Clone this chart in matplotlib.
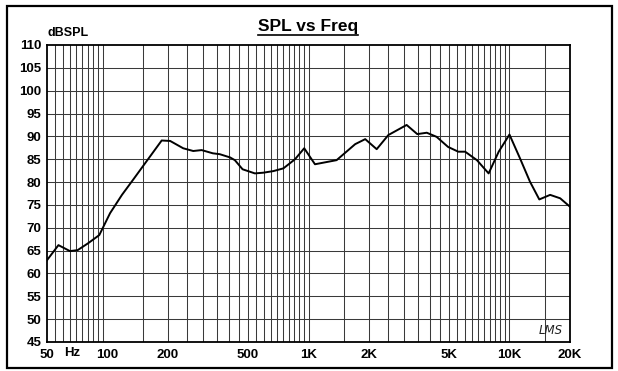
import matplotlib

matplotlib.use("Agg")
import matplotlib.pyplot as plt
from matplotlib.lines import Line2D
from matplotlib.patches import Rectangle
import numpy as np

# --- data --------------------------------------------------------------------
freq_hz = [50, 57, 65, 71, 80, 91, 103, 118, 134, 186, 205, 238, 267, 294,
           334, 362, 407, 430, 470, 541, 595, 668, 750, 857, 952, 1077, 1380,
           1707, 1915, 2184, 2497, 3078, 3477, 3877, 4339, 4945, 5561, 6017,
           6885, 7874, 8838, 9995, 11277, 12640, 14070, 15930, 17870, 20000]
spl_db = [62.9, 66.2, 64.9, 65.1, 66.6, 68.4, 73.2, 77.2, 80.5, 89.1, 89.0,
          87.4, 86.8, 87.0, 86.3, 86.1, 85.4, 84.8, 82.8, 81.9, 82.05, 82.4,
          83.0, 85.0, 87.4, 83.9, 84.8, 88.3, 89.4, 87.2, 90.3, 92.5, 90.5,
          90.8, 89.9, 87.7, 86.65, 86.65, 84.8, 81.9, 86.65, 90.4, 85.2, 80.1,
          76.2, 77.2, 76.45, 74.6]

x_ticks = [50, 100, 200, 500, 1000, 2000, 5000, 10000, 20000]
x_tick_labels = ["50", "100", "200", "500", "1K", "2K", "5K", "10K", "20K"]
y_ticks = list(range(45, 111, 5))

# grid: every 5 Hz 50-100, 150, every 50 Hz 200-1000, 1500, every 500 Hz 2K-10K, 15K
grid_freqs = (list(range(55, 100, 5)) + [150] + list(range(200, 1001, 50))
              + [1500] + list(range(2000, 10001, 500)) + [15000])

W, H = 618, 371
fig = plt.figure(figsize=(W / 100, H / 100), dpi=100)
fig.patch.set_facecolor("white")

# outer frame
fig.patches.append(Rectangle((7 / W, 3 / H), 605 / W, 362 / H,
                             transform=fig.transFigure, fill=False,
                             edgecolor="black", lw=1.6))

ax = fig.add_axes([47 / W, 29 / H, 523 / W, 297 / H])
ax.set_xscale("log")
ax.set_xlim(50, 20000)
ax.set_ylim(45, 110)

for f in grid_freqs:
    ax.axvline(f, color="#3a3a3a", lw=0.75, zorder=1)
for y in y_ticks[1:-1]:
    ax.axhline(y, color="#3a3a3a", lw=0.75, zorder=1)

ax.plot(freq_hz, spl_db, color="black", lw=1.4, zorder=3)

ax.set_xticks(x_ticks)
ax.set_xticklabels(x_tick_labels)
ax.xaxis.set_minor_locator(matplotlib.ticker.NullLocator())
ax.set_yticks(y_ticks)
ax.set_yticklabels([str(v) for v in y_ticks])
ax.tick_params(length=0, labelsize=9.5, pad=4)
for lab in ax.get_xticklabels() + ax.get_yticklabels():
    lab.set_fontweight("bold")
    lab.set_fontfamily("Liberation Sans")
ax.tick_params(axis="x", pad=5)
for s in ax.spines.values():
    s.set_linewidth(1.3)

ax.text(72 / W, 18 / H, "Hz", transform=fig.transFigure, ha="center",
        va="center", fontsize=9.5, fontweight="bold", family="Liberation Sans")
fig.text(48 / W, (H - 33) / H, "dBSPL", ha="left", va="center", fontsize=9,
         fontweight="bold", family="Liberation Sans")
title = fig.text(308 / W, (H - 27) / H, "SPL vs Freq", ha="center",
                 va="center", fontsize=12.5, fontweight="bold",
                 family="Liberation Sans")
fig.text(551 / W, (H - 331) / H, "LMS", ha="center", va="center",
         fontsize=8.5, style="italic", family="DejaVu Sans", color="#222222")

# underline the title, just under the baseline
fig.canvas.draw()
bb = title.get_window_extent().transformed(fig.transFigure.inverted())
uy = bb.y0 - 0.002
fig.lines.append(Line2D([bb.x0, bb.x1], [uy, uy], transform=fig.transFigure,
                        color="black", lw=1.2))

fig.savefig("out.png", dpi=100)
